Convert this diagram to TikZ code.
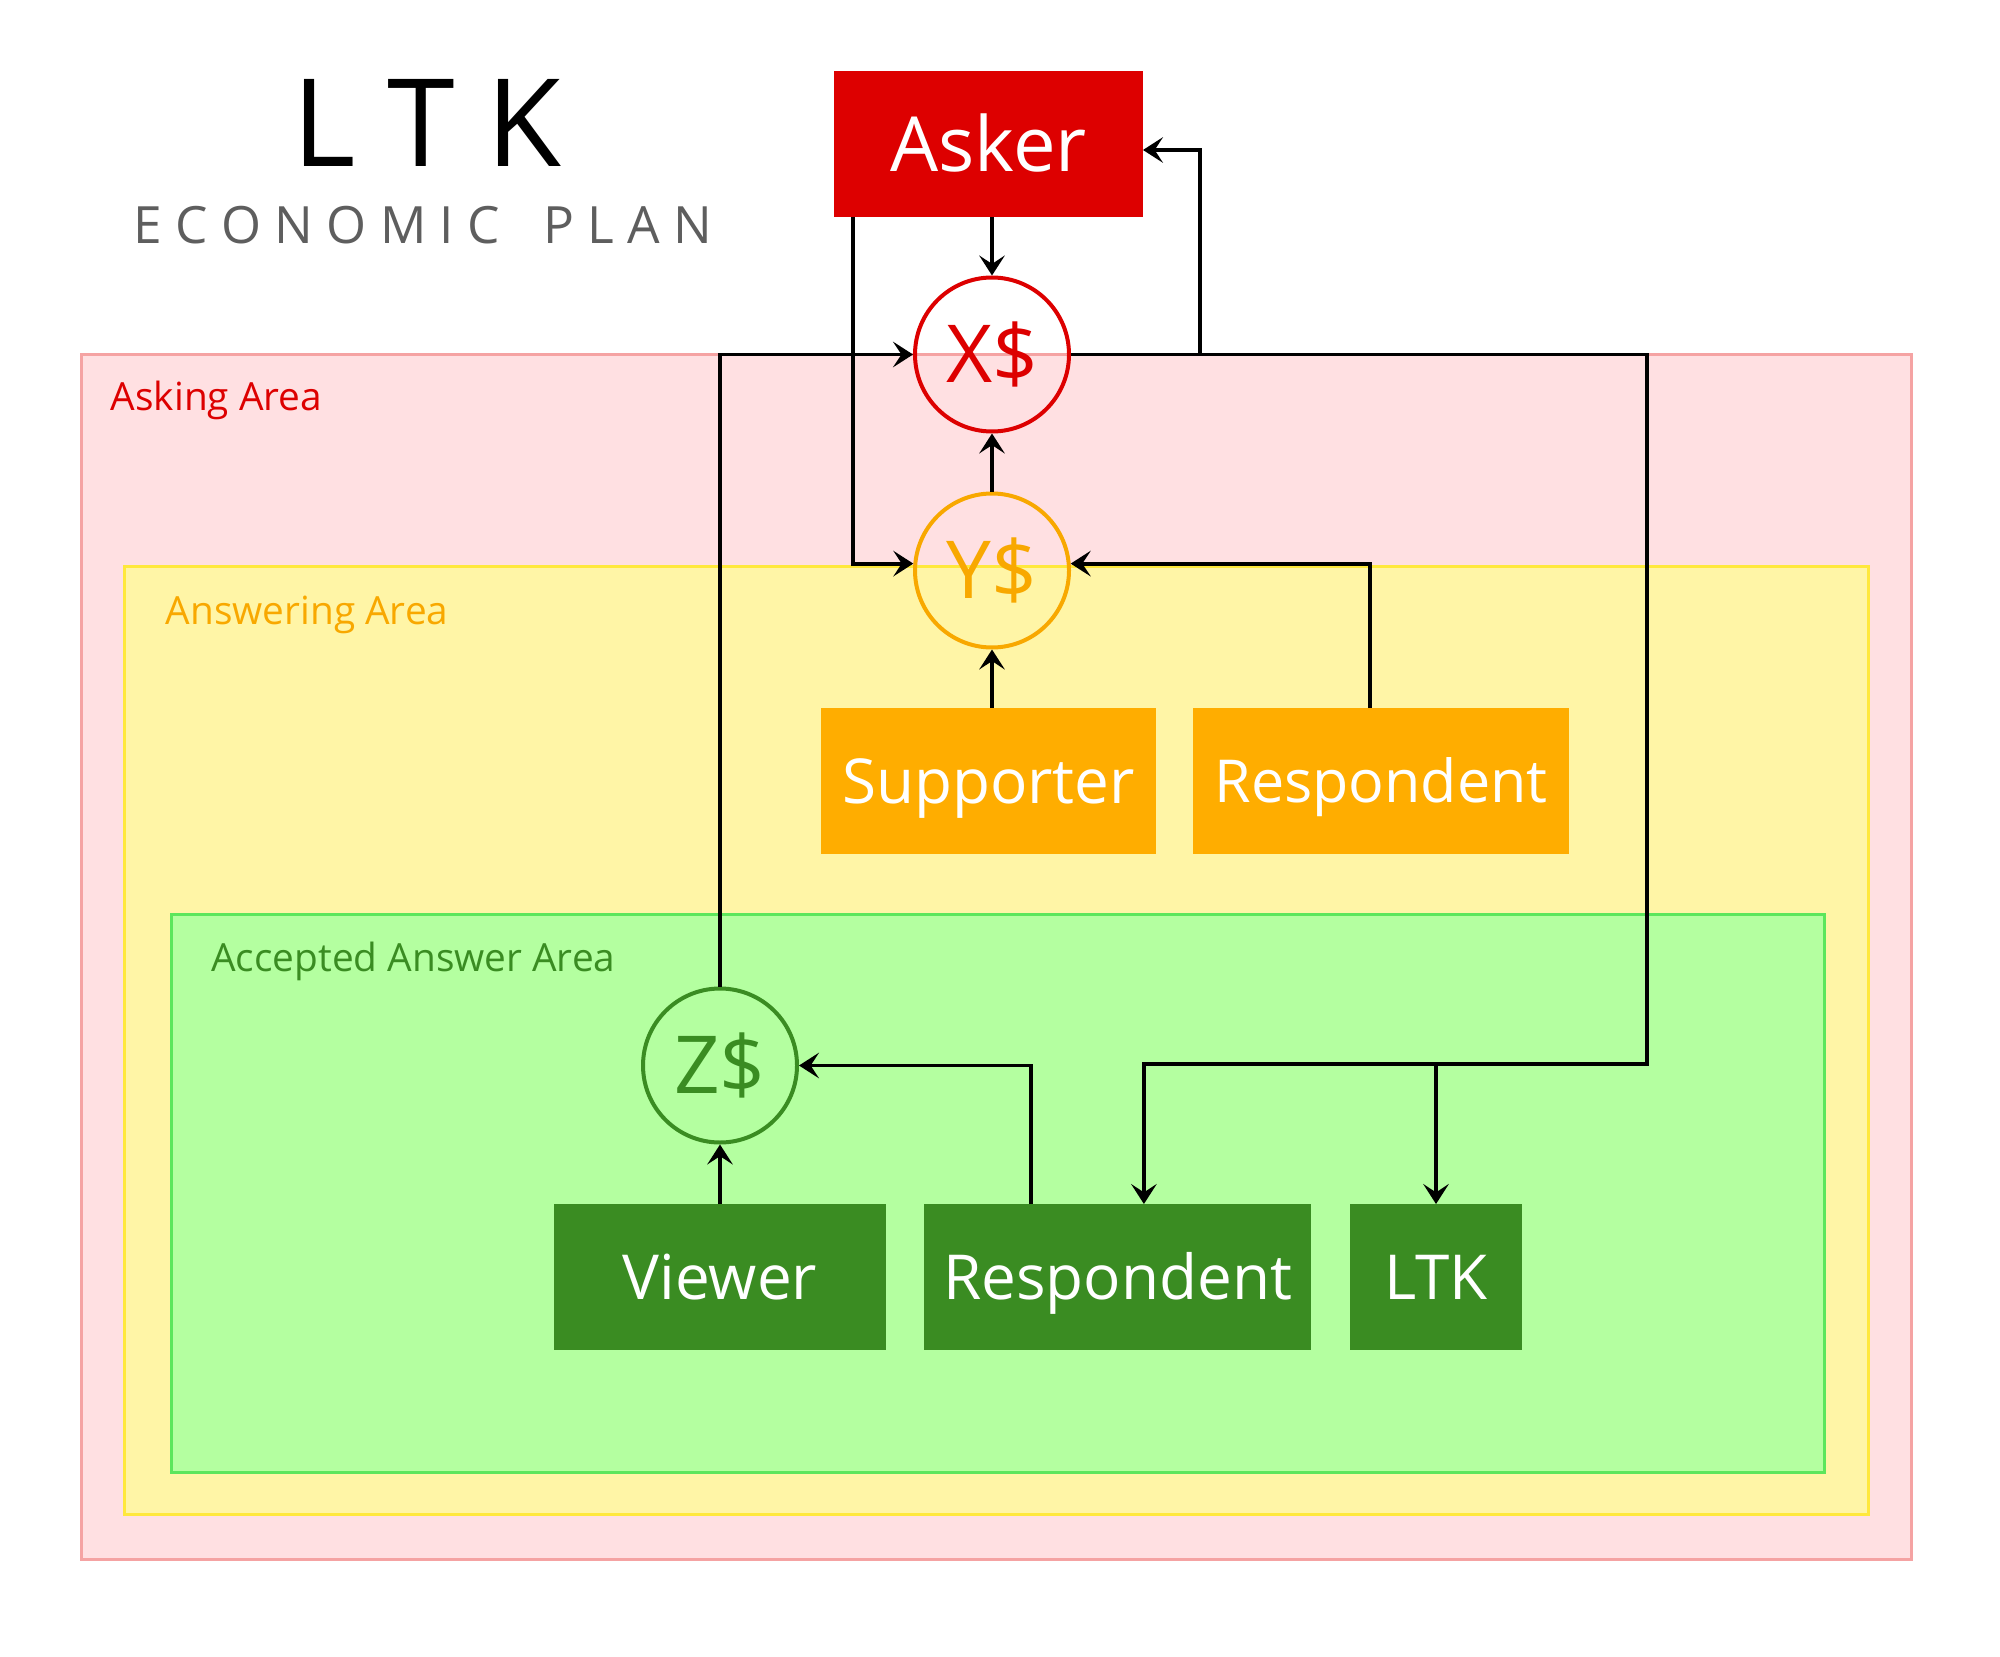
\documentclass[tikz,border=0pt]{standalone}
\usepackage{fontspec}
\setmainfont{Open Sans}
\usetikzlibrary{arrows.meta}
\definecolor{askred}{HTML}{DD0000}
\definecolor{ansorange}{HTML}{FFAD00}
\definecolor{ansorangetxt}{HTML}{F8A800}
\definecolor{accgreen}{HTML}{3A8C22}
\definecolor{pinkfill}{HTML}{FFE0E2}
\definecolor{pinkline}{HTML}{F5A3A3}
\definecolor{yelfill}{HTML}{FFF5A6}
\definecolor{yelline}{HTML}{FFE83C}
\definecolor{grnfill}{HTML}{B4FFA0}
\definecolor{grnline}{HTML}{5CE65C}
\definecolor{titlegray}{HTML}{5E5E5E}
\begin{document}
\begin{tikzpicture}[x=0.25pt,y=-0.25pt,
  conn/.style={draw=black,line width=0.95pt,-{Stealth[length=5pt,width=6.4pt,inset=2.1pt]}},
  area/.style={line width=0.75pt},
  arealabel/.style={anchor=base west,inner sep=0pt,font=\fontsize{9.7pt}{11pt}\selectfont},
  actor/.style={rectangle,inner sep=0pt,outer sep=0pt,minimum height=36.5pt,text=white,
    font=\fontsize{15.5pt}{16pt}\selectfont,text height=11.07pt,text depth=0pt},
  money/.style={circle,inner sep=0pt,minimum size=38.5pt,line width=1pt,
    font=\fontsize{20pt}{21pt}\selectfont,text height=14.2pt,text depth=0pt},
]
\fill[white] (0,0) rectangle (2000,1657);
\useasboundingbox (0,0) rectangle (2000,1657);

% areas
\filldraw[area,fill=pinkfill,draw=pinkline] (81,355) rectangle (1911,1559);
\filldraw[area,fill=yelfill,draw=yelline] (124,566) rectangle (1868,1514);
\filldraw[area,fill=grnfill,draw=grnline] (171,914) rectangle (1824,1472);
\node[arealabel,text=askred] (lblask) at (110,411) {Asking Area};
\node[arealabel,text=ansorangetxt] (lblans) at (165,624) {Answering Area};
\node[arealabel,text=accgreen] (lblacc) at (210.5,971) {Accepted Answer Area};

% title
\node[anchor=base,inner sep=0pt,font=\fontsize{30.5pt}{31pt}\selectfont] (title) at (427,167) {L T K};
\node[anchor=base,inner sep=0pt,text=titlegray,font=\fontsize{12.85pt}{14pt}\selectfont] (subtitle) at (423,244) {E C O N O M I C\hspace{0.85em}P L A N};

% actors
\node[actor,fill=askred,minimum width=77.25pt,minimum height=36.5pt,font=\fontsize{19pt}{20pt}\selectfont,text height=13.57pt] (asker) at (988.5,144) {Asker};
\node[actor,fill=ansorange,minimum width=83.75pt] (sup) at (988.5,781) {Supporter};
\node[actor,fill=ansorange,minimum width=94pt,font=\fontsize{14.8pt}{16pt}\selectfont,text height=10.57pt] (resp1) at (1381,781) {Respondent};
\node[actor,fill=accgreen,minimum width=83pt] (viewer) at (720,1277) {Viewer};
\node[actor,fill=accgreen,minimum width=96.75pt] (resp2) at (1117.5,1277) {Respondent};
\node[actor,fill=accgreen,minimum width=43pt] (ltkbox) at (1436,1277) {LTK};

% money circles
\node[money,draw=askred,text=askred] (X) at (992,354.5) {X\$};
\node[money,draw=ansorangetxt,text=ansorangetxt] (Y) at (992,570.5) {Y\$};
\node[money,draw=accgreen,text=accgreen] (Z) at (720,1065.5) {Z\$};

% connectors
\coordinate (jA) at (1200,354.5);
\coordinate (jB) at (1647,1064);
\draw[conn] (asker.south -| X.north) -- (X.north);
\draw[conn] ([xshift=4.75pt]asker.south west) |- (Y.175);
\draw[conn] (Y.north) -- (X.south);
\draw[conn] (X.east) -- (jA) |- ([yshift=-1.5pt]asker.east);
\draw[conn] (jA) -| (jB) -| ([xshift=6.6pt]resp2.north);
\draw[conn] (jB -| ltkbox.north) -- (ltkbox.north);
\draw[conn] (Z.north) |- (X.west);
\draw[conn] (sup.north -| Y.south) -- (Y.south);
\draw[conn] ([xshift=-2.75pt]resp1.north) |- (Y.5);
\draw[conn] (viewer.north -| Z.south) -- (Z.south);
\draw[conn] ([xshift=26.75pt]resp2.north west) |- (Z.east);
\end{tikzpicture}
\end{document}
